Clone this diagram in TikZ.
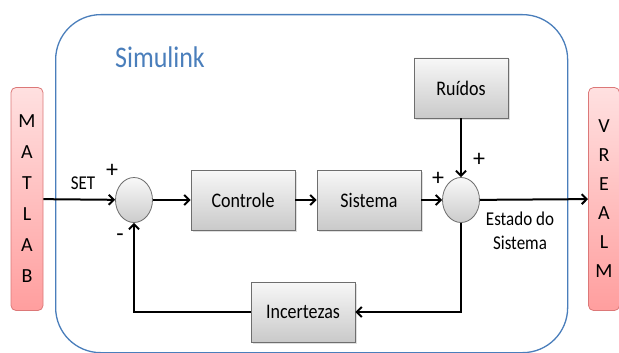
\documentclass[tikz,border=0pt]{standalone}
\usepackage{fontspec}
\setmainfont{Carlito}
\usetikzlibrary{arrows.meta, positioning, shapes.geometric, shadows}

\definecolor{simblue}{RGB}{74,126,187}
\definecolor{boxline}{RGB}{110,110,110}
\definecolor{ioline}{RGB}{220,120,120}

\newcommand{\vstretch}[1]{\scalebox{1}[1.15]{#1}}

\begin{document}
\begin{tikzpicture}[
        x=1pt, y=-1pt,
        font=\fontsize{18}{21}\selectfont,
        block/.style={
            draw=boxline,
            line width=0.8pt,
            top color=gray!6,
            bottom color=gray!42,
            minimum width=104pt,
            minimum height=60pt,
            drop shadow={opacity=0.25, shadow xshift=1.5pt, shadow yshift=-1.5pt}
        },
        sumnode/.style={
            ellipse,
            draw=boxline,
            line width=0.8pt,
            top color=gray!5,
            bottom color=gray!40,
            minimum width=37pt,
            minimum height=45pt,
            inner sep=0pt
        },
        iobox/.style={
            draw=ioline,
            line width=0.8pt,
            rounded corners=5pt,
            top color=red!12,
            bottom color=red!38,
            minimum height=223pt,
            align=center
        },
        region/.style={
            draw=simblue,
            line width=1.3pt,
            rounded corners=45pt,
            minimum width=512pt,
            minimum height=338pt,
            anchor=north west
        },
        arrow/.style={-{Straight Barb[length=5pt, width=10pt, line width=2pt]}, line width=2pt},
        sign/.style={font=\fontsize{24}{24}\selectfont, inner sep=0pt}
    ]

        \useasboundingbox (0,0) rectangle (619,353);

        % ---- Region ----
        \node[region] (sim) at (55,14) {};
        \node[text=simblue, font=\fontsize{26}{30}\selectfont] (simlabel) at (160,57) {\vstretch{Simulink}};

        % ---- Nodes ----
        \node[iobox, minimum width=32pt, font=\fontsize{20}{31}\selectfont] (matlab) at (27,199) {M\\A\\T\\L\\A\\B};
        \node[iobox, minimum width=31pt, font=\fontsize{20}{29}\selectfont] (vrealm) at (604,199) {V\\R\\E\\A\\L\\M};

        \node[sumnode] (sum1) at (134,200) {};
        \node[block] (ctrl) at (243,200) {\vstretch{Controle}};
        \node[block] (sys) at (369,200) {\vstretch{Sistema}};
        \node[sumnode] (sum2) at (461,200) {};
        \node[block, minimum width=94pt] (noise) at (461,88) {\vstretch{Ruídos}};
        \node[block] (unc) at (303,312) {\vstretch{Incertezas}};

        % ---- Labels ----
        \node[font=\fontsize{17}{19}\selectfont] (set) at (83,183) {\vstretch{SET}};
        \node[sign] (p1) at (112,171) {+};
        \node[sign] (m1) at (120,238) {-};
        \node[sign] (p2) at (438,179) {+};
        \node[sign] (p3) at (479,160) {+};
        \node[align=center, font=\fontsize{17}{24}\selectfont] (state) at (520,231) {\vstretch{Estado do}\\\vstretch{Sistema}};

        % ---- Arrows ----
        \draw[arrow] (matlab) -- (sum1);
        \draw[arrow] (sum1) -- (ctrl);
        \draw[arrow] (ctrl) -- (sys);
        \draw[arrow] (sys) -- (sum2);
        \draw[arrow] (noise) -- (sum2);
        \draw[arrow] (sum2) -- (vrealm);
        \draw[arrow] (sum2.south) |- (unc.east);
        \draw[arrow] (unc.west) -| (sum1.south);

    \end{tikzpicture}
\end{document}
